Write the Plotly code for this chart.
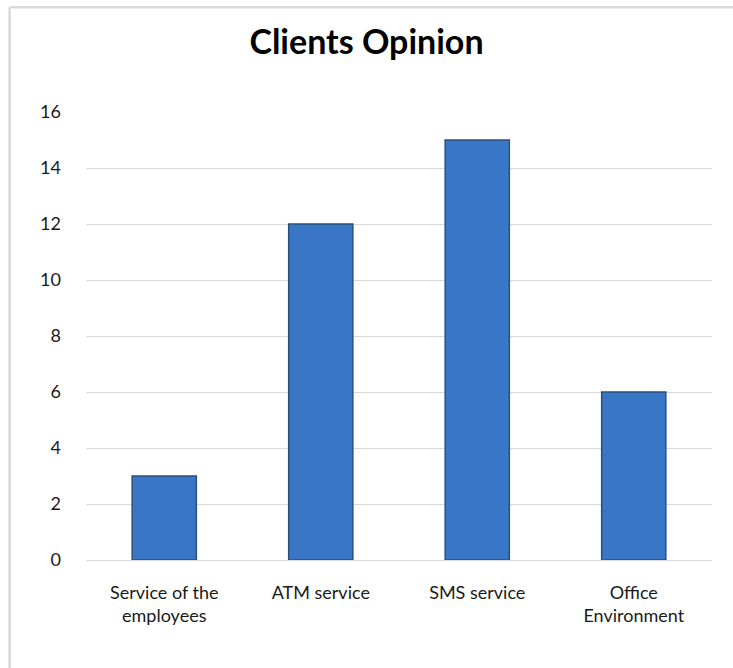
import plotly.graph_objects as go

categories = ["Service of the<br>employees", "ATM service", "SMS service", "Office<br>Environment"]
values = [3, 12, 15, 6]
y_ticks = [0, 2, 4, 6, 8, 10, 12, 14, 16]

FONT = "Lato, Carlito, Calibri, sans-serif"

fig = go.Figure()
fig.add_trace(go.Bar(
    x=categories, y=values,
    marker=dict(color="#3a76c6", line=dict(color="#27507f", width=1.5)),
    width=0.41,
    hoverinfo="x+y",
))

border = dict(color="#d9d9d9", width=2.5)
fig.update_layout(
    width=733, height=668,
    margin=dict(l=86, r=21, t=112, b=108),
    paper_bgcolor="white", plot_bgcolor="white",
    font=dict(family=FONT, size=18, color="#1a1a1a"),
    title=dict(text="<b>Clients Opinion</b>", x=0.5, xanchor="center", y=1 - 42/668, yanchor="middle",
               font=dict(size=34, color="black", family=FONT)),
    showlegend=False,
    xaxis=dict(showgrid=False, showline=False, ticks="", ticklabelstandoff=20,
               tickfont=dict(size=18, color="#1a1a1a")),
    yaxis=dict(range=[0, 16], tickvals=y_ticks, showgrid=True, gridcolor="#d9d9d9", gridwidth=1.2,
               zeroline=True, zerolinecolor="#d9d9d9", zerolinewidth=1.2, showline=False,
               ticks="", ticklabelstandoff=24, tickfont=dict(size=18, color="#1a1a1a")),
    shapes=[
        dict(type="line", xref="paper", yref="paper", x0=-0.122, x1=1.1, y0=1.234, y1=1.234, line=border),
        dict(type="line", xref="paper", yref="paper", x0=-0.122, x1=-0.122, y0=-0.4, y1=1.234, line=border),
    ],
)

fig.write_html("out.html")
